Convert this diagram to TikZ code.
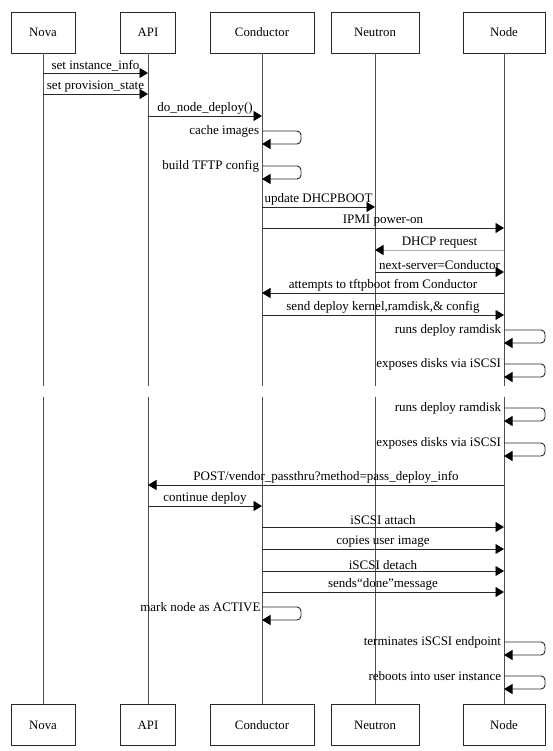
\documentclass[tikz,border=0pt]{standalone}
\usepackage{fontspec}
\setmainfont{Liberation Serif}
\usetikzlibrary{
    arrows.meta,
    positioning
}
\definecolor{Cline}{RGB}{40, 40, 40}
\definecolor{Clife}{RGB}{80, 80, 80}
\definecolor{Cpale}{RGB}{175, 175, 175}
\tikzset{
    actor/.style={
        rectangle, draw=Cline, line width=0.7pt, fill=white,
        minimum height=41pt, inner sep=2pt, font=\fontsize{12.8}{15}\selectfont
    },
    life/.style={line width=0.9pt, draw=Clife},
    msg/.style={-{Triangle[length=8.5pt, width=10pt, color=black]}, line width=0.9pt, draw=Cline},
    selfmsg/.style={msg, rounded corners=4pt},
    lbl/.style={font=\fontsize{13}{15}\selectfont, above, inner sep=1.5pt},
    selflbl/.style={font=\fontsize{13}{15}\selectfont, anchor=east, inner sep=2.5pt},
}

\begin{document}
\begin{tikzpicture}[x=1pt, y=-1pt]
    \useasboundingbox (0,0) rectangle (552,751);

    % ── 参与者（上） ──────────────────────────────────────
    \node [actor, minimum width=64pt]  (nova)    at (43,32.5)  {Nova};
    \node [actor, minimum width=55pt]  (api)     at (148,32.5) {API};
    \node [actor, minimum width=104pt] (cond)    at (262,32.5) {Conductor};
    \node [actor, minimum width=88pt]  (neutron) at (375,32.5) {Neutron};
    \node [actor, minimum width=82pt]  (host)    at (504,32.5) {Node};

    % ── 参与者（下） ──────────────────────────────────────
    \node [actor, minimum width=64pt,  below=651pt of nova]    (nova2)    {Nova};
    \node [actor, minimum width=55pt,  below=651pt of api]     (api2)     {API};
    \node [actor, minimum width=104pt, below=651pt of cond]    (cond2)    {Conductor};
    \node [actor, minimum width=88pt,  below=651pt of neutron] (neutron2) {Neutron};
    \node [actor, minimum width=82pt,  below=651pt of host]    (host2)    {Node};

    % ── 行高 ─────────────────────────────────────────────
    \coordinate (r1)  at (0,73);
    \coordinate (r2)  at (0,94);
    \coordinate (r3)  at (0,116);
    \coordinate (s1)  at (0,131);
    \coordinate (s2)  at (0,166);
    \coordinate (r4)  at (0,207);
    \coordinate (r5)  at (0,228);
    \coordinate (r6)  at (0,250);
    \coordinate (r7)  at (0,272);
    \coordinate (r8)  at (0,293);
    \coordinate (r9)  at (0,315);
    \coordinate (s3)  at (0,330);
    \coordinate (s4)  at (0,364);
    \coordinate (brk1) at (0,386);
    \coordinate (brk2) at (0,397);
    \coordinate (s5)  at (0,408);
    \coordinate (s6)  at (0,443);
    \coordinate (r10) at (0,485);
    \coordinate (r11) at (0,506);
    \coordinate (r12) at (0,527);
    \coordinate (r13) at (0,549);
    \coordinate (r14) at (0,571);
    \coordinate (r15) at (0,592);
    \coordinate (s7)  at (0,607);
    \coordinate (s8)  at (0,642);
    \coordinate (s9)  at (0,676);

    % ── 生命线（中间断开） ────────────────────────────────
    \draw [life] (nova.south)    -- (nova |- brk1)    (nova |- brk2)    -- (nova2.north);
    \draw [life] (api.south)     -- (api |- brk1)     (api |- brk2)     -- (api2.north);
    \draw [life] (cond.south)    -- (cond |- brk1)    (cond |- brk2)    -- (cond2.north);
    \draw [life, line width=0.6pt] (neutron.south) -- (neutron |- brk1) (neutron |- brk2) -- (neutron2.north);
    \draw [life] (host.south)    -- (host |- brk1)    (host |- brk2)    -- (host2.north);

    % ── 消息：部署准备 ───────────────────────────────────
    \draw [msg] (nova |- r1) -- node[lbl]{set instance\_info} (api |- r1);
    \draw [msg] (nova |- r2) -- node[lbl]{set provision\_state} (api |- r2);
    \draw [msg] (api |- r3) -- node[lbl]{do\_node\_deploy()} (cond |- r3);
    \draw [selfmsg] (cond |- s1) node[selflbl]{cache images} -- ++(39,0) -- ++(0,13) -- ++(-39,0);
    \draw [selfmsg] (cond |- s2) node[selflbl]{build TFTP config} -- ++(39,0) -- ++(0,13) -- ++(-39,0);
    \draw [msg] (cond |- r4) -- node[lbl]{update DHCPBOOT} (neutron |- r4);
    \draw [msg] (cond |- r5) -- node[lbl]{IPMI power-on} (host |- r5);

    % ── 消息：PXE 启动 ───────────────────────────────────
    \draw [msg, draw=Cpale] (host |- r6) -- node[lbl]{DHCP request} (neutron |- r6);
    \draw [msg] (neutron |- r7) -- node[lbl]{next-server=Conductor} (host |- r7);
    \draw [msg] (host |- r8) -- node[lbl]{attempts to tftpboot from Conductor} (cond |- r8);
    \draw [msg] (cond |- r9) -- node[lbl]{send deploy kernel,ramdisk,\& config} (host |- r9);
    \draw [selfmsg] (host |- s3) node[selflbl]{runs deploy ramdisk} -- ++(41,0) -- ++(0,13) -- ++(-41,0);
    \draw [selfmsg] (host |- s4) node[selflbl]{exposes disks via iSCSI} -- ++(41,0) -- ++(0,13) -- ++(-41,0);

    % ── 断开之后 ─────────────────────────────────────────
    \draw [selfmsg] (host |- s5) node[selflbl]{runs deploy ramdisk} -- ++(41,0) -- ++(0,13) -- ++(-41,0);
    \draw [selfmsg] (host |- s6) node[selflbl]{exposes disks via iSCSI} -- ++(41,0) -- ++(0,13) -- ++(-41,0);
    \draw [msg] (host |- r10) -- node[lbl]{POST/vendor\_passthru?method=pass\_deploy\_info} (api |- r10);
    \draw [msg] (api |- r11) -- node[lbl]{continue deploy} (cond |- r11);

    % ── 消息：写入镜像 ───────────────────────────────────
    \draw [msg] (cond |- r12) -- node[lbl]{iSCSI attach} (host |- r12);
    \draw [msg, line width=0.6pt] (cond |- r13) -- node[lbl]{copies user image} (host |- r13);
    \draw [msg, line width=0.6pt] (cond |- r14) -- node[lbl]{iSCSI detach} (host |- r14);
    \draw [msg] (cond |- r15) -- node[lbl]{sends“done”message} (host |- r15);
    \draw [selfmsg] (cond |- s7) node[selflbl, inner sep=1pt]{mark node as ACTIVE} -- ++(39,0) -- ++(0,13) -- ++(-39,0);
    \draw [selfmsg] (host |- s8) node[selflbl]{terminates iSCSI endpoint} -- ++(41,0) -- ++(0,13) -- ++(-41,0);
    \draw [selfmsg] (host |- s9) node[selflbl]{reboots into user instance} -- ++(41,0) -- ++(0,13) -- ++(-41,0);

\end{tikzpicture}
\end{document}
